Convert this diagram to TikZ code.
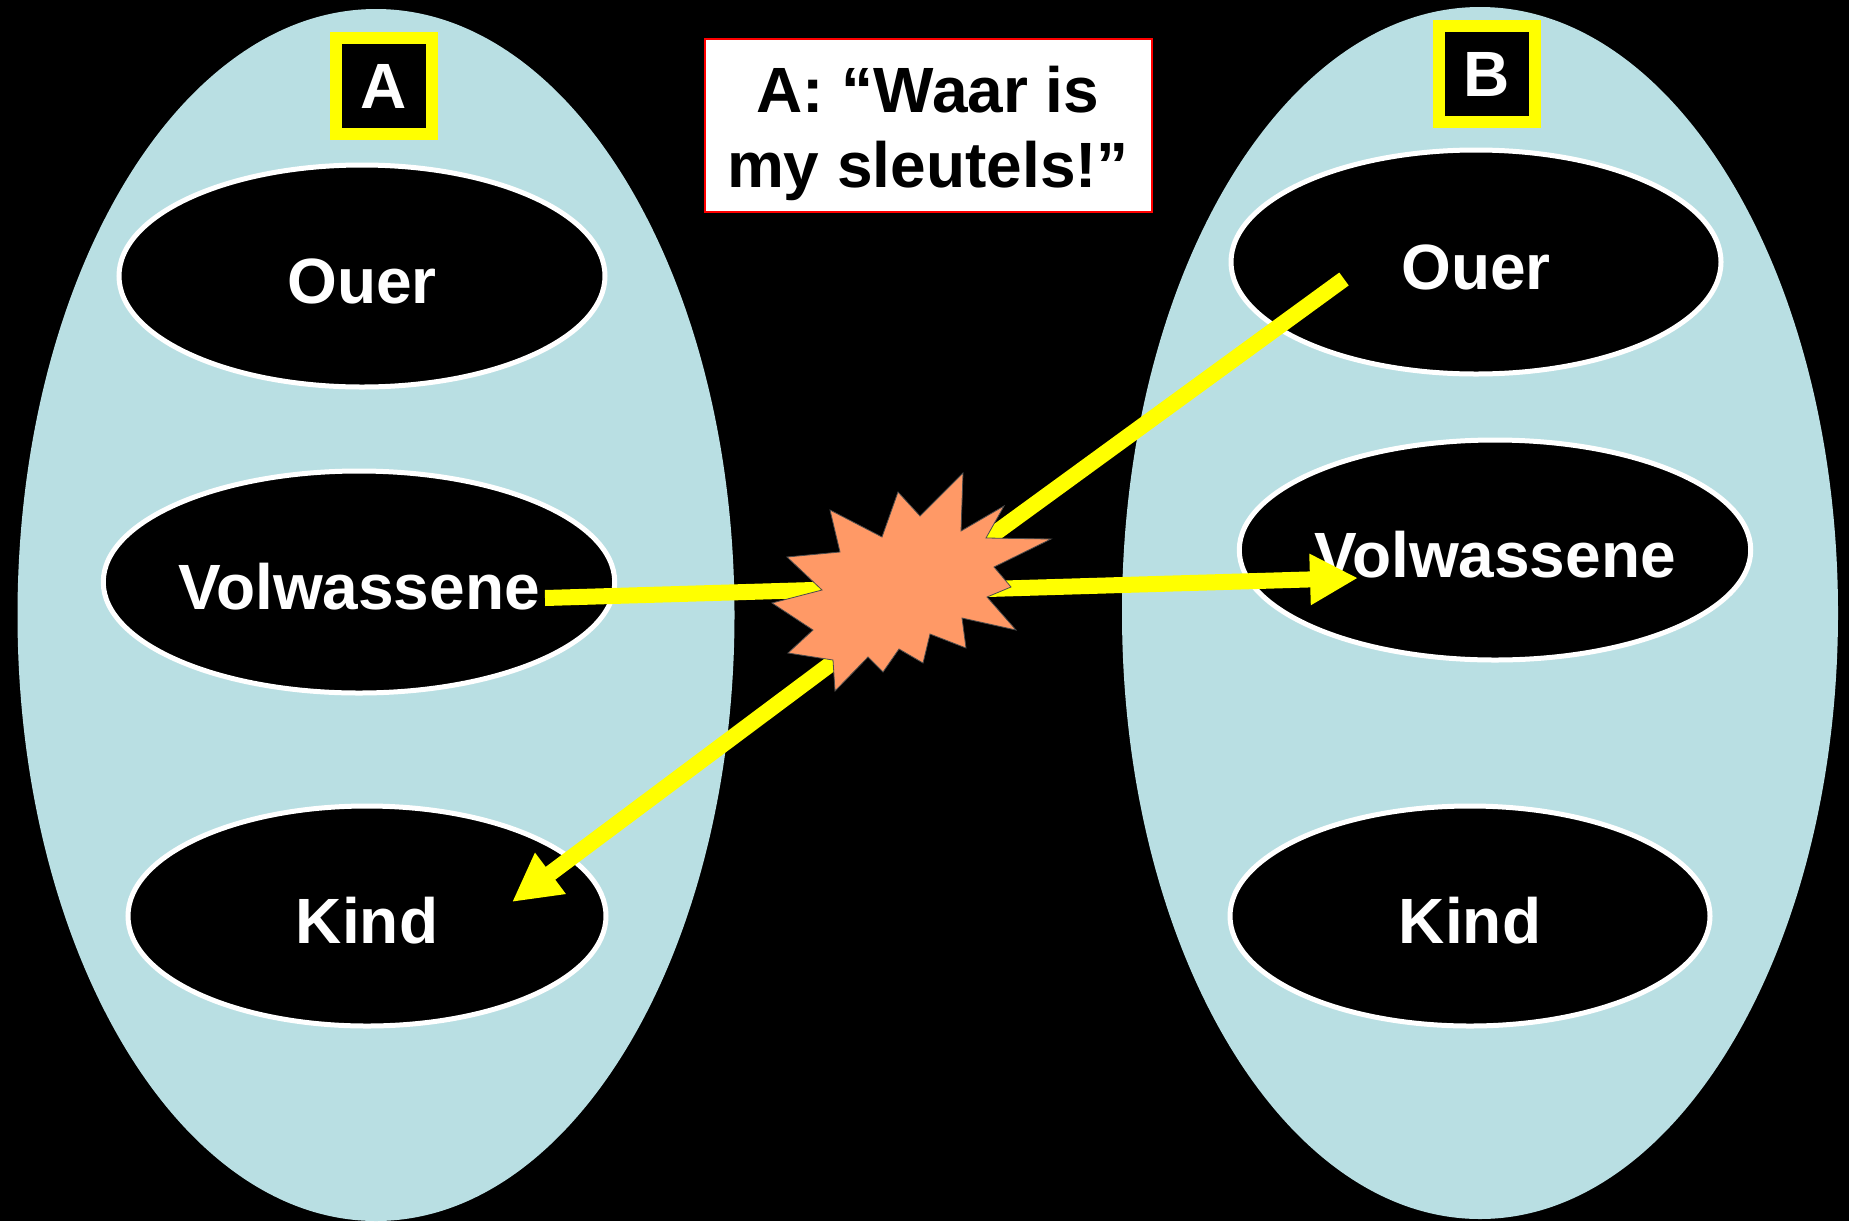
\documentclass[tikz,border=0pt]{standalone}
\usepackage{fontspec}
\setmainfont{Liberation Sans}
\usetikzlibrary{shapes.geometric,arrows.meta}
\definecolor{paleblue}{RGB}{185,223,227}
\definecolor{boomfill}{RGB}{255,153,102}
\definecolor{arrowyellow}{RGB}{255,255,0}
\begin{document}
\begin{tikzpicture}[x=1pt,y=-1pt,
  bigoval/.style={ellipse, fill=paleblue, draw=none, inner sep=0pt},
  role/.style={ellipse, fill=black, draw=white, line width=5pt, inner sep=0pt, text=white,
    text height=55pt, text depth=0pt,
    font=\fontsize{64}{70}\selectfont\bfseries},
  tag/.style={draw=arrowyellow, fill=black, line width=12pt, minimum size=96pt, inner sep=0pt,
    text=white, font=\fontsize{64}{70}\selectfont\bfseries},
  quotebox/.style={draw=red, fill=white, line width=2pt, minimum width=447pt, minimum height=173pt, inner sep=0pt},
  quotetext/.style={align=center, inner sep=0pt, text=black, font=\fontsize{64}{75}\selectfont\bfseries},
  yline/.style={draw=arrowyellow, line width=16pt, line cap=butt},
  yarrow/.style={yline, -{Triangle[length=48pt,width=48pt]}},
  boom/.style={fill=boomfill, draw=black!70, line width=0.8pt, line join=miter}
]
\useasboundingbox (0,0) rectangle (1849,1221);
\fill[black] (0,0) rectangle (1849,1221);

% big personality ovals
\node[bigoval, minimum width=717pt, minimum height=1212pt] (persA) at (376,615) {};
\node[bigoval, minimum width=716pt, minimum height=1212pt] (persB) at (1480,613) {};

% ego states of A
\node[role, minimum width=486pt, minimum height=222pt] (AO) at (362,276) {Ouer};
\node[role, minimum width=492pt, minimum height=222pt] (AV) at (359,582) {Volwassene};
\node[role, minimum width=478pt, minimum height=220pt] (AK) at (367,916) {Kind};

% ego states of B
\node[role, minimum width=490pt, minimum height=224pt] (BO) at (1476,262) {Ouer};
\node[role, minimum width=496pt, minimum height=220pt] (BV) at (1495,550) {Volwassene};
\node[role, minimum width=480pt, minimum height=220pt] (BK) at (1470,916) {Kind};

% tags
\node[tag] (tagA) at (384,86) {A};
\node[tag] (tagB) at (1487,74) {B};

% quote
\node[quotebox] (qbox) at (928,125) {};
\node[quotetext] (quote) at (928,133) {A: “Waar is\\my sleutels!”};

% connector end points
\coordinate (a1) at (545,598);
\coordinate (a1e) at (880,588);
\coordinate (b2s) at (920,591);
\coordinate (b2t) at (1358,578);
\coordinate (b3s) at (1344,279);
\coordinate (b3e) at (950,566);
\coordinate (a4s) at (911,604);
\coordinate (a4t) at (512,902);

\draw[yline] (a1) -- (a1e);
\draw[yarrow] (b2s) -- (b2t);
\draw[yline] (b3s) -- (b3e);
\draw[yarrow] (a4s) -- (a4t);

% explosion
\draw[boom] (830,510) -- (882,537) -- (898,492) -- (920,516) -- (963,473) -- (961,531)
  -- (1004,506) -- (986,538) -- (1051,539) -- (994,567) -- (1011,587) -- (987,597)
  -- (1016,630) -- (962,618) -- (966,648) -- (930,634) -- (923,663) -- (899,649)
  -- (883,672) -- (868,657) -- (835,691) -- (833,660) -- (788,653) -- (813,630)
  -- (772,603) -- (822,590) -- (787,557) -- (840,552) -- cycle;
\coordinate (boomc) at (912,580);
\end{tikzpicture}
\end{document}
